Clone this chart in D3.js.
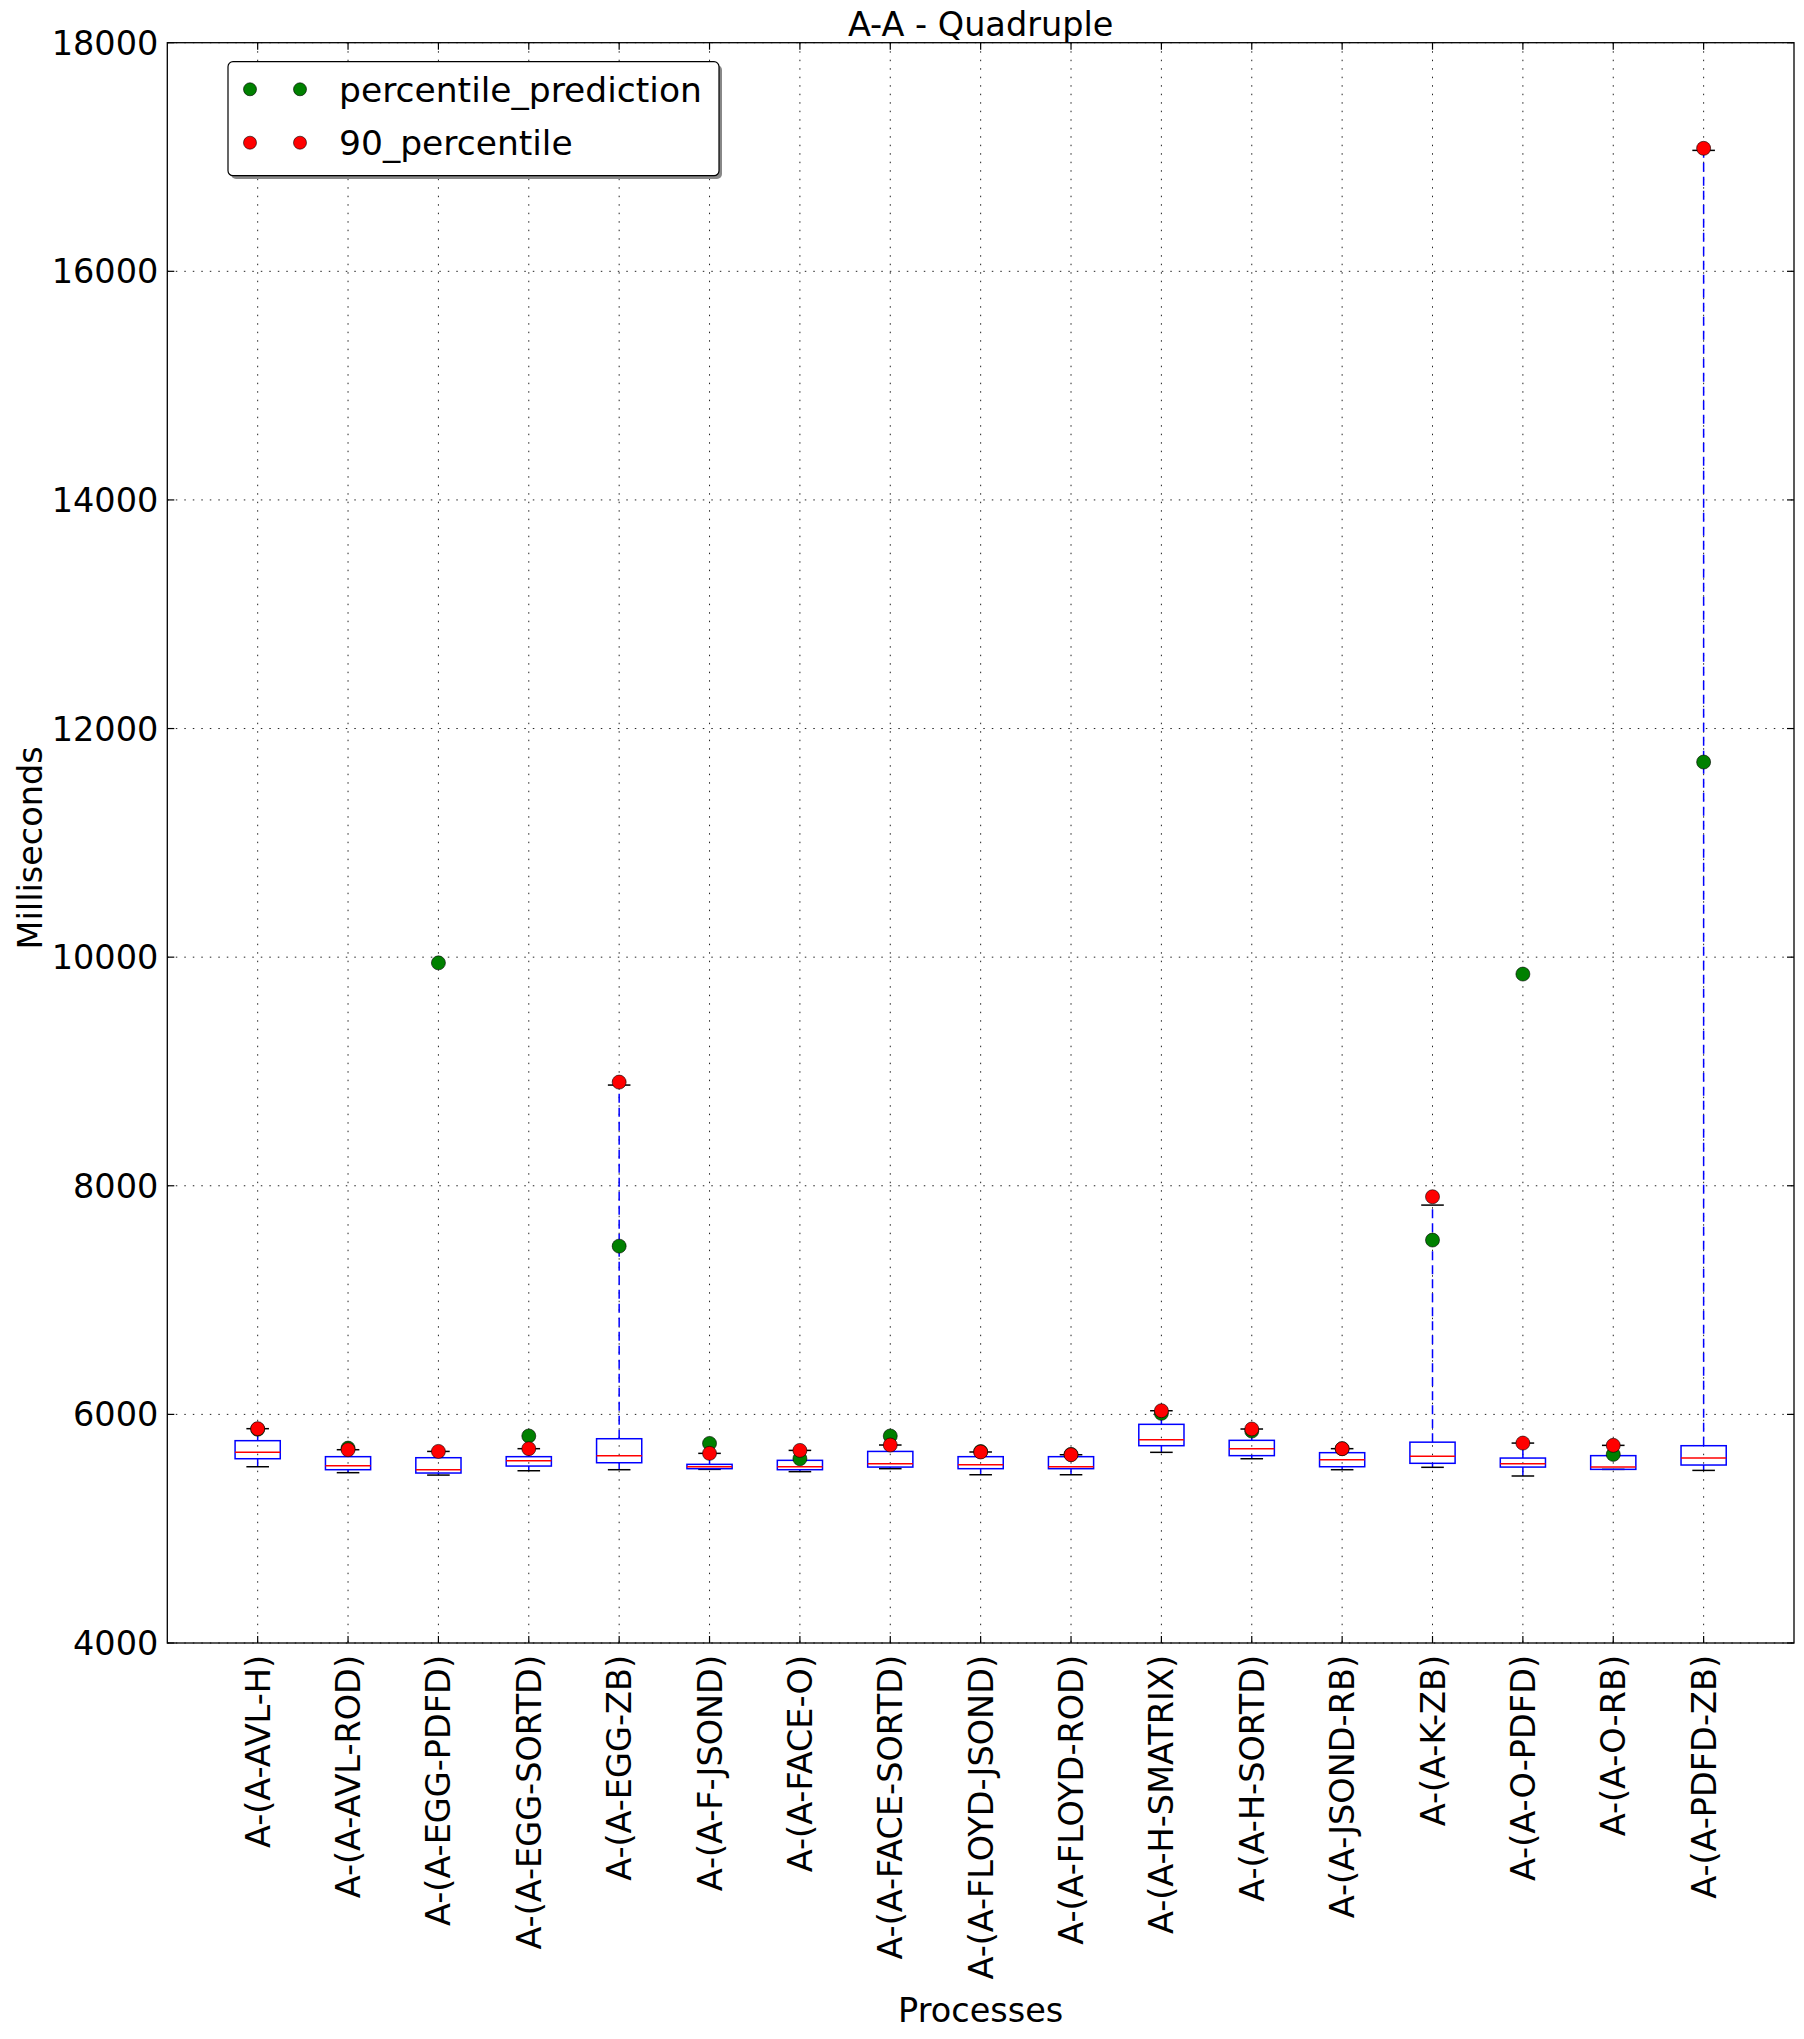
<!DOCTYPE html>
<html>
<head>
<meta charset="utf-8">
<script src="https://cdn.jsdelivr.net/npm/d3@7"></script>
<style>
  html, body { margin: 0; padding: 0; background: #fff; }
  svg { display: block; font-family: "DejaVu Sans", sans-serif; }
</style>
</head>
<body>
<svg id="chart" width="1804" height="2039"></svg>
<script>
const categories = [
  "A-(A-AVL-H)", "A-(A-AVL-ROD)", "A-(A-EGG-PDFD)", "A-(A-EGG-SORTD)", "A-(A-EGG-ZB)",
  "A-(A-F-JSOND)", "A-(A-FACE-O)", "A-(A-FACE-SORTD)", "A-(A-FLOYD-JSOND)", "A-(A-FLOYD-ROD)",
  "A-(A-H-SMATRIX)", "A-(A-H-SORTD)", "A-(A-JSOND-RB)", "A-(A-K-ZB)", "A-(A-O-PDFD)",
  "A-(A-O-RB)", "A-(A-PDFD-ZB)"
];
const whiskerLow  = [5542, 5490, 5469, 5507, 5516, 5519, 5499, 5525, 5472, 5472, 5668, 5612, 5516, 5537, 5461, 5519, 5510];
const q1          = [5612, 5516, 5487, 5548, 5577, 5525, 5516, 5539, 5525, 5525, 5726, 5639, 5542, 5572, 5539, 5519, 5557];
const median      = [5668, 5551, 5516, 5595, 5639, 5542, 5542, 5569, 5560, 5542, 5778, 5700, 5604, 5633, 5569, 5539, 5618];
const q3          = [5770, 5630, 5621, 5630, 5787, 5563, 5598, 5676, 5630, 5630, 5913, 5773, 5665, 5757, 5618, 5639, 5726];
const whiskerHigh = [5875, 5691, 5676, 5700, 8881, 5659, 5685, 5732, 5671, 5647, 6032, 5872, 5700, 7831, 5749, 5729, 17058];
const percentilePrediction = [5870, 5705, 9950, 5811, 7472, 5746, 5612, 5811, 5675, 5650, 6009, 5854, 5700, 7525, 9852, 5650, 11707];
const percentile90 = [5875, 5691, 5676, 5700, 8907, 5659, 5685, 5732, 5671, 5647, 6032, 5872, 5700, 7904, 5749, 5729, 17076];
const yTicks = [4000, 6000, 8000, 10000, 12000, 14000, 16000, 18000];
const titleText = "A-A - Quadruple";
const xLabel = "Processes";
const yLabel = "Milliseconds";
const legendLabels = ["percentile_prediction", "90_percentile"];

const svg = d3.select("#chart");
const L = 167.3, R = 1794, T = 42.7, B = 1643;
const FS = 33.5;

const x = d3.scaleLinear().domain([0, categories.length + 1]).range([L, R]);
const y = d3.scaleLinear().domain([4000, 18000]).range([B, T]);
const step = x(1) - x(0);
const boxW = step * 0.5, capW = step * 0.25;

// grid
const grid = svg.append("g");
yTicks.forEach(t => {
  grid.append("line").attr("x1", L).attr("x2", R).attr("y1", y(t)).attr("y2", y(t))
    .attr("stroke", "#222").attr("stroke-width", 1).attr("stroke-dasharray", "1.5,7");
});
categories.forEach((c, i) => {
  grid.append("line").attr("x1", x(i + 1)).attr("x2", x(i + 1)).attr("y1", T).attr("y2", B)
    .attr("stroke", "#222").attr("stroke-width", 1).attr("stroke-dasharray", "1.5,7");
});

// boxes
const g = svg.append("g");
categories.forEach((c, i) => {
  const cx = x(i + 1);
  g.append("line").attr("x1", cx).attr("x2", cx).attr("y1", y(q3[i])).attr("y2", y(whiskerHigh[i]))
    .attr("stroke", "#0000ff").attr("stroke-width", 1.5).attr("stroke-dasharray", "9,5");
  g.append("line").attr("x1", cx).attr("x2", cx).attr("y1", y(q1[i])).attr("y2", y(whiskerLow[i]))
    .attr("stroke", "#0000ff").attr("stroke-width", 1.5).attr("stroke-dasharray", "9,5");
  [whiskerHigh[i], whiskerLow[i]].forEach(v => {
    g.append("line").attr("x1", cx - capW / 2).attr("x2", cx + capW / 2).attr("y1", y(v)).attr("y2", y(v))
      .attr("stroke", "#000").attr("stroke-width", 1.5);
  });
  g.append("rect").attr("x", cx - boxW / 2).attr("y", y(q3[i])).attr("width", boxW)
    .attr("height", y(q1[i]) - y(q3[i])).attr("fill", "none").attr("stroke", "#0000ff").attr("stroke-width", 1.5);
  g.append("line").attr("x1", cx - boxW / 2).attr("x2", cx + boxW / 2).attr("y1", y(median[i])).attr("y2", y(median[i]))
    .attr("stroke", "#ff0000").attr("stroke-width", 1.5);
});

// points
const pts = svg.append("g");
percentilePrediction.forEach((v, i) => {
  pts.append("circle").attr("cx", x(i + 1)).attr("cy", y(v)).attr("r", 7)
    .attr("fill", "#008000").attr("stroke", "#000").attr("stroke-width", 0.6);
});
percentile90.forEach((v, i) => {
  pts.append("circle").attr("cx", x(i + 1)).attr("cy", y(v)).attr("r", 7)
    .attr("fill", "#ff0000").attr("stroke", "#000").attr("stroke-width", 0.6);
});

// frame
svg.append("rect").attr("x", L).attr("y", T).attr("width", R - L).attr("height", B - T)
  .attr("fill", "none").attr("stroke", "#000").attr("stroke-width", 1.3);

// ticks (inward, all sides)
const tk = svg.append("g").attr("stroke", "#000").attr("stroke-width", 1.2);
yTicks.forEach(t => {
  tk.append("line").attr("x1", L).attr("x2", L + 7).attr("y1", y(t)).attr("y2", y(t));
  tk.append("line").attr("x1", R).attr("x2", R - 7).attr("y1", y(t)).attr("y2", y(t));
});
categories.forEach((c, i) => {
  tk.append("line").attr("x1", x(i + 1)).attr("x2", x(i + 1)).attr("y1", B).attr("y2", B - 7);
  tk.append("line").attr("x1", x(i + 1)).attr("x2", x(i + 1)).attr("y1", T).attr("y2", T + 7);
});

// y tick labels
yTicks.forEach(t => {
  svg.append("text").attr("x", L - 9).attr("y", y(t)).attr("dy", "0.36em")
    .attr("text-anchor", "end").attr("font-size", FS).text(t);
});

// x tick labels
categories.forEach((c, i) => {
  svg.append("text").attr("transform", `translate(${x(i + 1)},${B + 12}) rotate(-90)`)
    .attr("text-anchor", "end").attr("dy", "0.36em").attr("font-size", FS).text(c);
});

// title & axis labels
svg.append("text").attr("x", (L + R) / 2).attr("y", 36).attr("text-anchor", "middle")
  .attr("font-size", FS).text(titleText);
svg.append("text").attr("x", (L + R) / 2).attr("y", 2022).attr("text-anchor", "middle")
  .attr("font-size", FS).text(xLabel);
svg.append("text").attr("transform", `translate(41.7,${(T + B) / 2 + 5}) rotate(-90)`)
  .attr("text-anchor", "middle").attr("font-size", FS).text(yLabel);

// legend
const lg = svg.append("g");
lg.append("rect").attr("x", 231).attr("y", 65).attr("width", 491).attr("height", 114).attr("rx", 5)
  .attr("fill", "#888");
lg.append("rect").attr("x", 228).attr("y", 61.7).attr("width", 491).attr("height", 114).attr("rx", 5)
  .attr("fill", "#fff").attr("stroke", "#000").attr("stroke-width", 1.2);
const legColors = ["#008000", "#ff0000"];
const legY = [89.3, 142.7];
legendLabels.forEach((lab, k) => {
  [250, 300].forEach(mx => {
    lg.append("circle").attr("cx", mx).attr("cy", legY[k]).attr("r", 6.5)
      .attr("fill", legColors[k]).attr("stroke", "#000").attr("stroke-width", 0.6);
  });
  lg.append("text").attr("x", 339).attr("y", legY[k]).attr("dy", "0.36em")
    .attr("font-size", 34.5).text(lab);
});
</script>
</body>
</html>
